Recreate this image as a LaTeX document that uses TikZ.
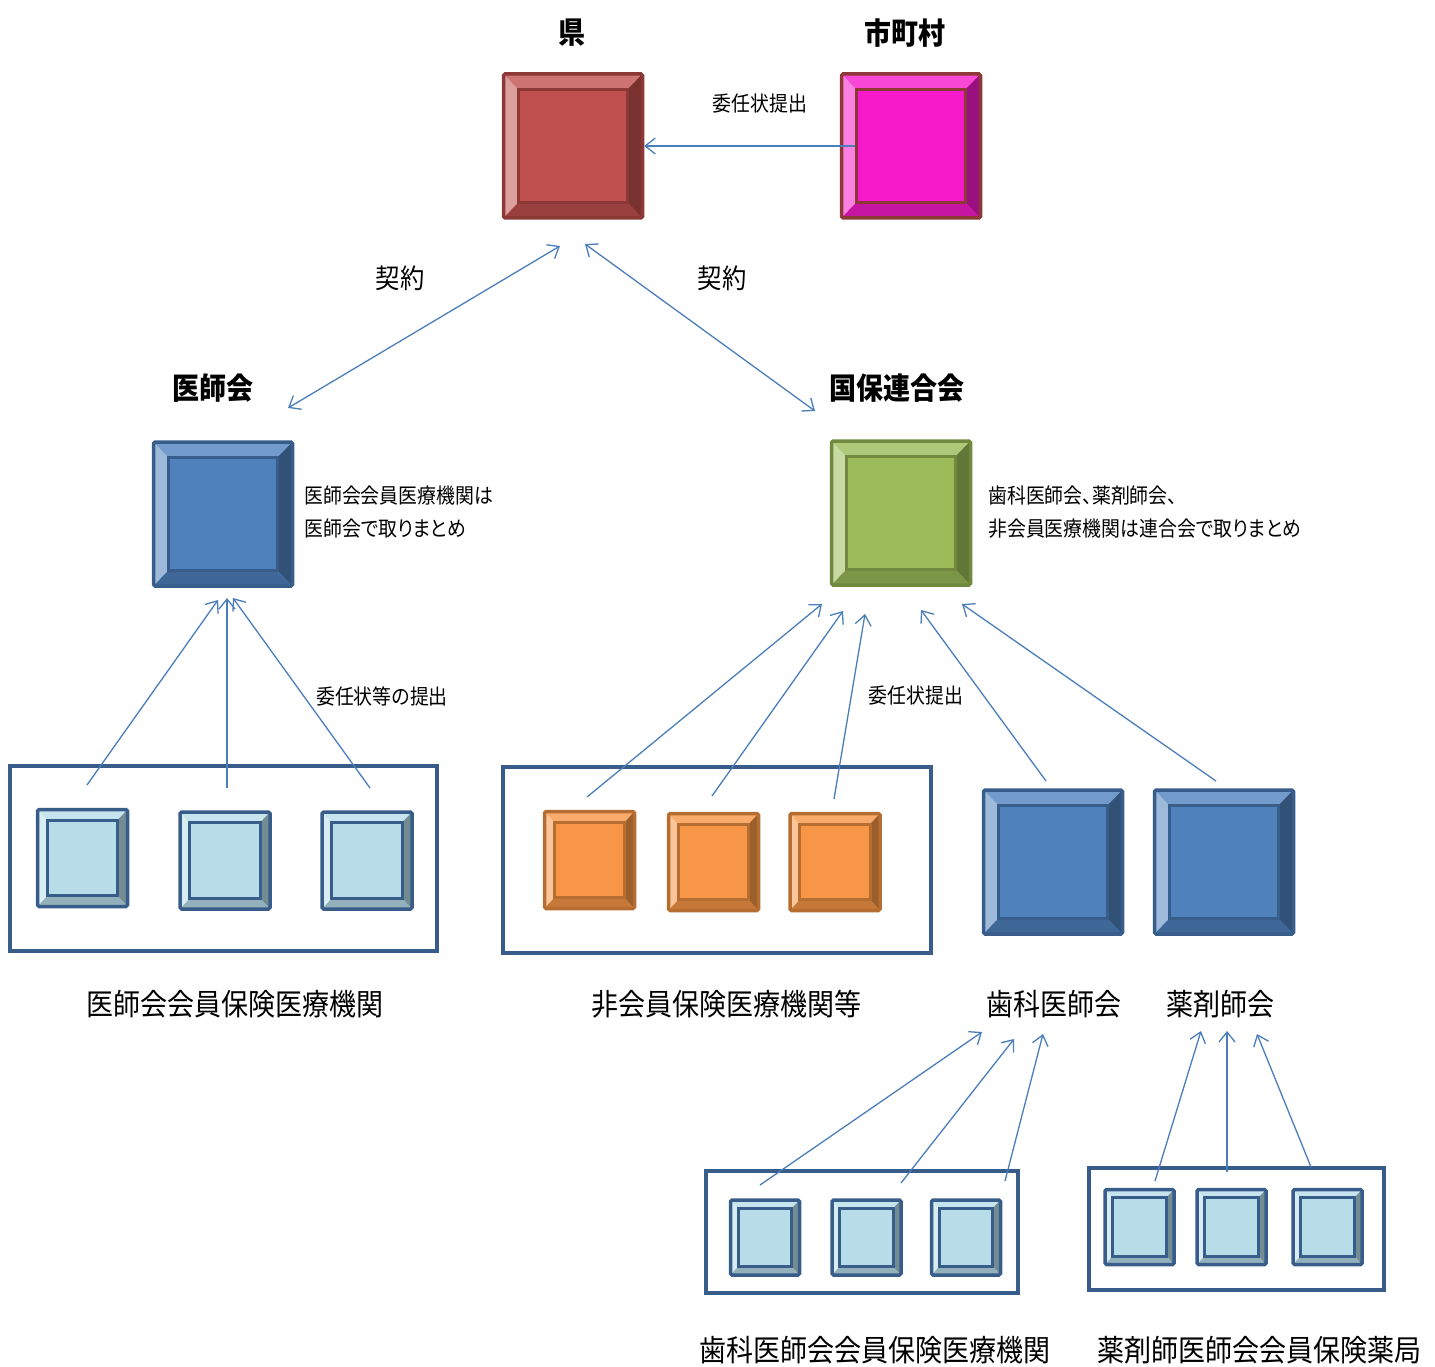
\documentclass[tikz,border=0pt]{standalone}
\usepackage{fontspec}
\setmainfont[FakeStretch=0.9,RawFeature=+palt]{Noto Sans CJK JP}
\usetikzlibrary{arrows.meta,calc}
\definecolor{lineblue}{HTML}{4A7EBB}
\definecolor{rededge}{HTML}{8C3836}
\definecolor{redface}{HTML}{C0504D}
\definecolor{magface}{HTML}{F61ACB}
\definecolor{blueedge}{HTML}{385D8A}
\definecolor{blueface}{HTML}{4F81BD}
\definecolor{greenedge}{HTML}{71893F}
\definecolor{greenface}{HTML}{9BBB59}
\definecolor{skyface}{HTML}{B7DEE8}
\definecolor{orgedge}{HTML}{B66D31}
\definecolor{orgface}{HTML}{F79646}

\begin{document}
\begin{tikzpicture}[x=1pt,y=-1pt,
  >={Straight Barb[length=10pt,width=16pt]},
  bev/.style 2 args={draw=#1,fill=#2,line width=3.5pt,rounded corners=1.5pt,inner sep=0pt,
    path picture={
      \coordinate (pnw) at (path picture bounding box.north west);
      \coordinate (pne) at (path picture bounding box.north east);
      \coordinate (psw) at (path picture bounding box.south west);
      \coordinate (pse) at (path picture bounding box.south east);
      \coordinate (qnw) at ($(pnw)!.11!(pse)$);
      \coordinate (qse) at ($(pse)!.11!(pnw)$);
      \coordinate (qne) at ($(pne)!.11!(psw)$);
      \coordinate (qsw) at ($(psw)!.11!(pne)$);
      \fill[#2!80!white,sharp corners] (pnw) -- (pne) -- (qne) -- (qnw) -- cycle;
      \fill[#2!55!white,sharp corners] (pnw) -- (qnw) -- (qsw) -- (psw) -- cycle;
      \fill[#2!63!black,sharp corners] (pne) -- (pse) -- (qse) -- (qne) -- cycle;
      \fill[#2!80!black,sharp corners] (psw) -- (qsw) -- (qse) -- (pse) -- cycle;
      \draw[#1,line width=3pt,sharp corners] (qnw) rectangle (qse);
    }},
  big/.style={minimum width=139pt,minimum height=144pt},
  sm/.style={minimum width=90pt,minimum height=97pt},
  tiny/.style={minimum width=69pt,minimum height=75pt},
  grp/.style={draw=blueedge,line width=4pt,inner sep=0pt},
  arr/.style={draw=lineblue,line width=1.3pt,->},
  arr2/.style={draw=lineblue,line width=1.3pt,<->},
  hd/.style={font=\fontsize{30}{30}\selectfont\bfseries},
  caption/.style={font=\fontsize{30}{30}\selectfont},
  kei/.style={font=\fontsize{27}{27}\selectfont},
  lab/.style={font=\fontsize{21}{21}\selectfont},
  note/.style={font=\fontsize{21}{33}\selectfont,align=left,anchor=west,inner sep=0pt}]
\useasboundingbox (0,0) rectangle (1435,1367);
% top level
\node[bev={rededge}{redface},big] (ken) at (573,146) {};
\node[bev={rededge}{magface},big] (shi) at (911,146) {};
\node[hd] (kenlab) at (572,33) {県};
\node[hd] (shilab) at (905,33) {市町村};
\node[lab] (inin1) at (760,104) {委任状提出};
\draw[arr] ([xshift=15pt]shi.west) -- (ken.east);
% contracts
\coordinate (kl1) at (560,246); \coordinate (kl2) at (288,408);
\coordinate (kr1) at (585,244); \coordinate (kr2) at (815,411);
\draw[arr2] (kl2) -- (kl1);
\draw[arr2] (kr1) -- (kr2);
\node[kei] (kei1) at (400,278) {契約};
\node[kei] (kei2) at (722,278) {契約};
% middle level
\node[hd] (ishilab) at (213,388) {医師会};
\node[hd] (kokulab) at (897,388) {国保連合会};
\node[bev={blueedge}{blueface},big] (ishi) at (223,514) {};
\node[bev={greenedge}{greenface},big] (koku) at (901,513) {};
\node[note] (ishinote) at (304,512) {医師会会員医療機関は\\医師会で取りまとめ};
\node[note] (kokunote) at (988,512) {歯科医師会、薬剤師会、\\非会員医療機関は連合会で取りまとめ};
% group A: ishikai members
\node[grp,minimum width=427pt,minimum height=185pt] (grpA) at (223.5,858.5) {};
\node[bev={blueedge}{skyface},sm] (a1) at (82.5,858) {};
\node[bev={blueedge}{skyface},sm] (a2) at (225,860.5) {};
\node[bev={blueedge}{skyface},sm] (a3) at (367,860.5) {};
\node[caption] (grpAlab) at (235,1004) {医師会会員保険医療機関};
\coordinate (a1s) at (87,785);  \coordinate (a1t) at (218,600);
\coordinate (a2s) at (227,788); \coordinate (a2t) at (227,598);
\coordinate (a3s) at (370,788); \coordinate (a3t) at (233,598);
\draw[arr] (a1s) -- (a1t);
\draw[arr] (a2s) -- (a2t);
\draw[arr] (a3s) -- (a3t);
\node[lab] (inin2) at (382,696) {委任状等の提出};
% group B: non members
\node[grp,minimum width=428pt,minimum height=186pt] (grpB) at (717,860) {};
\node[bev={orgedge}{orgface},sm] (b1) at (589.5,860) {};
\node[bev={orgedge}{orgface},sm] (b2) at (713.5,862) {};
\node[bev={orgedge}{orgface},sm] (b3) at (835,862) {};
\node[caption] (grpBlab) at (726,1004) {非会員保険医療機関等};
\coordinate (b1s) at (587,797); \coordinate (b1t) at (822,604);
\coordinate (b2s) at (712,796); \coordinate (b2t) at (843,611);
\coordinate (b3s) at (834,799); \coordinate (b3t) at (865,614);
\draw[arr] (b1s) -- (b1t);
\draw[arr] (b2s) -- (b2t);
\draw[arr] (b3s) -- (b3t);
\node[lab] (inin3) at (916,696) {委任状提出};
% dental and pharmacy associations
\node[bev={blueedge}{blueface},big] (shika) at (1053,862) {};
\node[bev={blueedge}{blueface},big] (yaku) at (1224,862) {};
\node[caption] (shikalab) at (1054,1004) {歯科医師会};
\node[caption] (yakulab) at (1220,1004) {薬剤師会};
\coordinate (s1s) at (1046,781); \coordinate (s1t) at (921,610);
\coordinate (y1s) at (1216,781); \coordinate (y1t) at (962,604);
\draw[arr] (s1s) -- (s1t);
\draw[arr] (y1s) -- (y1t);
% group C: dental members
\node[grp,minimum width=312pt,minimum height=122pt] (grpC) at (862,1232) {};
\node[bev={blueedge}{skyface},tiny] (c1) at (765,1237.5) {};
\node[bev={blueedge}{skyface},tiny] (c2) at (866.5,1237.5) {};
\node[bev={blueedge}{skyface},tiny] (c3) at (966,1237.5) {};
\node[caption] (grpClab) at (875,1350) {歯科医師会会員保険医療機関};
\coordinate (c1s) at (760,1185);  \coordinate (c1t) at (982,1032);
\coordinate (c2s) at (901,1183);  \coordinate (c2t) at (1014,1039);
\coordinate (c3s) at (1005,1181); \coordinate (c3t) at (1043,1034);
\draw[arr] (c1s) -- (c1t);
\draw[arr] (c2s) -- (c2t);
\draw[arr] (c3s) -- (c3t);
% group D: pharmacy members
\node[grp,minimum width=295pt,minimum height=122pt] (grpD) at (1236.5,1229) {};
\node[bev={blueedge}{skyface},tiny] (d1) at (1139.5,1227) {};
\node[bev={blueedge}{skyface},tiny] (d2) at (1231.5,1227) {};
\node[bev={blueedge}{skyface},tiny] (d3) at (1327.5,1227) {};
\node[caption,anchor=west] (grpDlab) at (1094,1350) {薬剤師医師会会員保険薬局};
\coordinate (d1s) at (1155,1181); \coordinate (d1t) at (1201,1031);
\coordinate (d2s) at (1227,1172); \coordinate (d2t) at (1227,1031);
\coordinate (d3s) at (1311,1167); \coordinate (d3t) at (1257,1034);
\draw[arr] (d1s) -- (d1t);
\draw[arr] (d2s) -- (d2t);
\draw[arr] (d3s) -- (d3t);
\end{tikzpicture}
\end{document}
